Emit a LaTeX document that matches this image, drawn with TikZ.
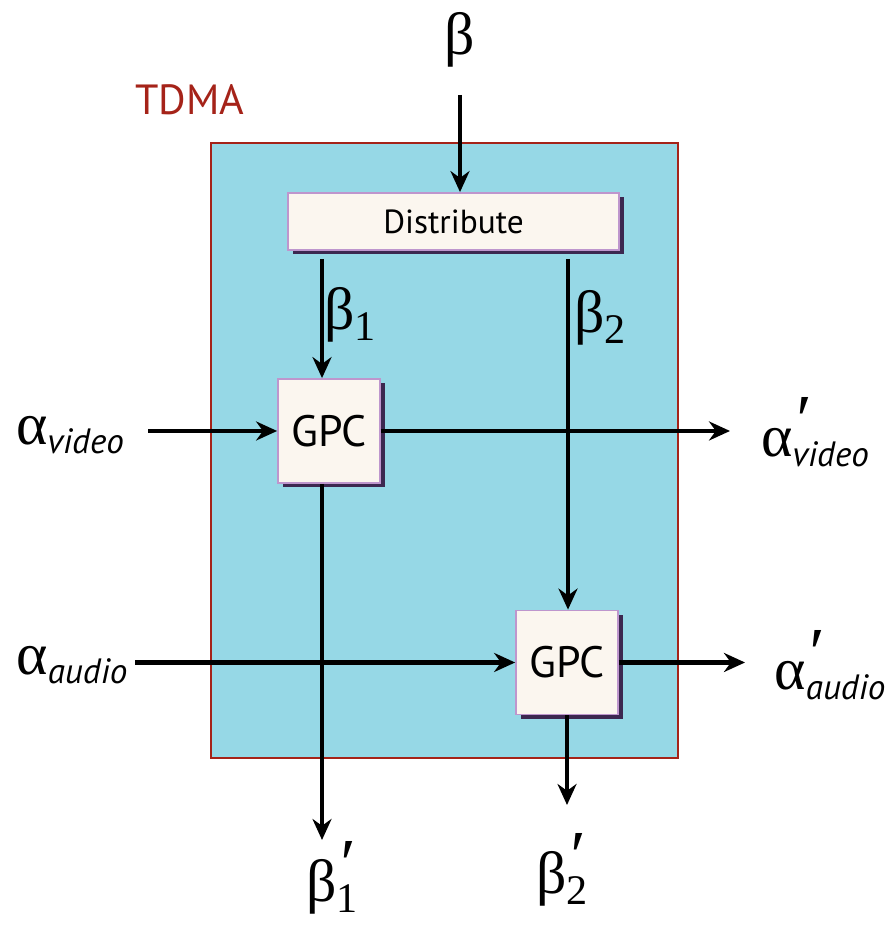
\documentclass[tikz,border=0pt]{standalone}
\usepackage{fontspec}
\setmainfont{PT Sans}
\newfontfamily\grk{Liberation Serif}
\usetikzlibrary{arrows.meta,shadows}

\definecolor{tdmafill}{RGB}{150,216,230}
\definecolor{tdmared}{RGB}{165,35,25}
\definecolor{boxfill}{RGB}{251,246,239}
\definecolor{boxline}{RGB}{190,150,205}
\definecolor{boxshadow}{RGB}{60,40,80}

% greek label with subscript, optional prime
\newcommand{\glab}[2]{{\grk\fontsize{17}{17}\selectfont #1}\raisebox{-0.55ex}{\fontsize{10}{10}\selectfont\itshape #2}}
\newcommand{\gplab}[2]{{\grk\fontsize{17}{17}\selectfont #1}\rlap{\raisebox{0.75ex}{\grk\fontsize{20}{20}\selectfont\itshape ′}}\raisebox{-0.55ex}{\fontsize{10}{10}\selectfont\itshape #2}}
\newcommand{\bsub}[2]{{\grk\fontsize{17}{17}\selectfont #1}\raisebox{-0.6ex}{\grk\fontsize{12}{12}\selectfont #2}}
\newcommand{\bpsub}[2]{{\grk\fontsize{17}{17}\selectfont #1}\rlap{\raisebox{0.8ex}{\grk\fontsize{20}{20}\selectfont\itshape ′}}\raisebox{-0.6ex}{\grk\fontsize{12}{12}\selectfont #2}}

\tikzset{
  flow/.style={line width=1.35pt, -{Stealth[length=0.21cm, width=0.19cm]}},
  blk/.style={draw=boxline, line width=0.5pt, fill=boxfill,
    drop shadow={shadow xshift=0.045cm, shadow yshift=-0.045cm, fill=boxshadow, opacity=1}},
  gpcbox/.style={blk, minimum width=1.02cm, minimum height=1.04cm, inner sep=0pt, font=\fontsize{12.5}{12.5}\selectfont},
  distbox/.style={blk, minimum width=3.31cm, minimum height=0.57cm, inner sep=0pt, font=\fontsize{9.5}{9.5}\selectfont}
}

\begin{document}
\begin{tikzpicture}
    \useasboundingbox (0,0) rectangle (8.92,9.25);

    % TDMA resource
    \draw[draw=tdmared, line width=0.5pt, fill=tdmafill] (2.11,1.67) rectangle (6.78,7.82);
    \node[text=tdmared, font=\fontsize{12}{12}\selectfont] (tdma) at (1.90,8.25) {TDMA};

    % Blocks
    \node[distbox] (dist) at (4.535,7.035) {Distribute};
    \node[gpcbox] (gpcA) at (3.29,4.94) {GPC};
    \node[gpcbox] (gpcB) at (5.67,2.625) {GPC};

    % Labels
    \node (beta) at (4.60,8.85) {\grk\fontsize{17}{17}\selectfont β};
    \node (betaA) at (3.50,6.10) {\bsub{β}{1}};
    \node (betaB) at (6.00,6.07) {\bsub{β}{2}};
    \node (avin) at (0.70,4.90) {\glab{α}{video}};
    \node (avout) at (8.15,4.93) {\gplab{α}{video}};
    \node (aain) at (0.72,2.60) {\glab{α}{audio}};
    \node (aaout) at (8.30,2.60) {\gplab{α}{audio}};
    \node (betaAo) at (3.32,0.47) {\bpsub{β}{1}};
    \node (betaBo) at (5.62,0.55) {\bpsub{β}{2}};

    % Free ends
    \coordinate (bin) at (4.60,8.30);
    \coordinate (xA) at (3.22,0);
    \coordinate (xB) at (5.68,0);
    \coordinate (avs) at (1.48,4.94);
    \coordinate (ave) at (7.30,4.94);
    \coordinate (aas) at (1.35,2.625);
    \coordinate (aae) at (7.45,2.625);
    \coordinate (bAe) at (3.22,0.85);
    \coordinate (bBe) at (5.67,1.20);

    % Connectors
    \draw[flow] (bin) -- (dist.north -| bin);
    \draw[flow] (dist.south -| xA) ++(0,-0.08) -- (gpcA.north -| xA);
    \draw[flow] (dist.south -| xB) ++(0,-0.08) -- (gpcB.north -| xB);
    \draw[flow] (avs) -- (gpcA.west);
    \draw[flow] (gpcA.east) -- (ave);
    \draw[flow] (aas) -- (gpcB.west);
    \draw[flow] (gpcB.east) -- (aae);
    \draw[flow] (gpcA.south -| xA) -- (bAe);
    \draw[flow] (gpcB.south) -- (bBe);
\end{tikzpicture}
\end{document}
